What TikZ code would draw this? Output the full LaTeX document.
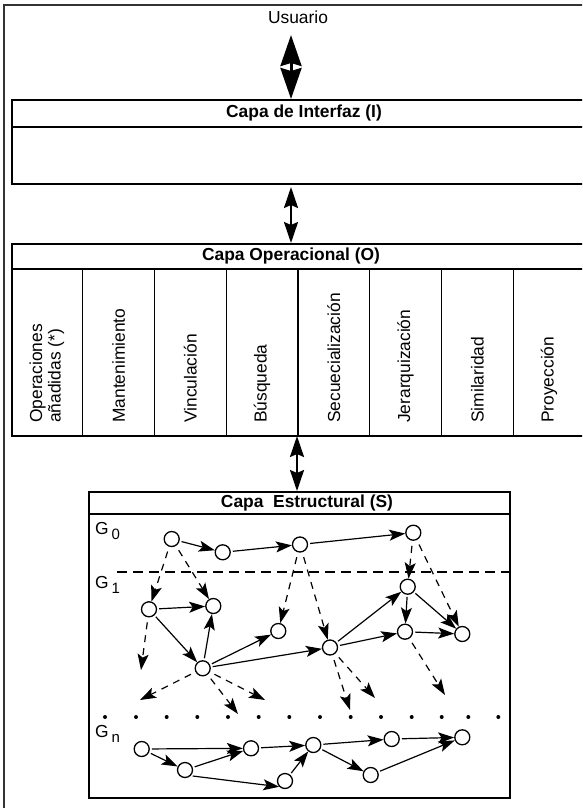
\documentclass[tikz,border=0pt]{standalone}
\usepackage{fontspec}
\setmainfont{Liberation Sans}
\usetikzlibrary{arrows.meta}
\begin{document}
\begin{tikzpicture}[x=1pt, y=-1pt,
    font=\fontsize{17.4}{20}\selectfont,
    frame/.style={draw=black!80, line width=1.5pt},
    layer/.style={draw, line width=1.6pt, rectangle, anchor=north west, inner sep=0pt},
    title/.style={font=\fontsize{17.4}{20}\selectfont\bfseries},
    oplabel/.style={rotate=90, anchor=west, align=left, inner sep=0pt,
      font=\fontsize{17.4}{18.5}\selectfont},
    gnode/.style={circle, draw, fill=white, line width=1.3pt, minimum size=15pt, inner sep=0pt},
    link/.style={-{Stealth[length=16pt,width=11pt,inset=3.5pt]}, line width=1.2pt, shorten <=2pt},
    dlink/.style={link, dash pattern=on 7pt off 6pt, shorten <=5pt},
    bigarrow/.style={{Stealth[length=31pt,width=21pt,inset=3pt]}-{Stealth[length=31pt,width=21pt,inset=3pt]},
      line width=3pt},
    midarrow/.style={{Stealth[length=21pt,width=14pt,inset=3pt]}-{Stealth[length=21pt,width=14pt,inset=3pt]},
      line width=2.2pt},
  ]
  \useasboundingbox (0,0) rectangle (582,808);
  \clip (0,0) rectangle (582,808);
  \draw[frame] (4,830) -- (4,5) -- (600,5);

  \node (usr) at (298,17) {Usuario};
  \node[layer, minimum width=590pt, minimum height=84pt] (iface) at (11,99) {};
  \draw[line width=1.6pt] (11,127) -- (600,127);
  \node[title] (ifacet) at (304,113) {Capa de Interfaz (I)};

  \node[layer, minimum width=590pt, minimum height=192pt] (oper) at (11,243) {};
  \draw[line width=1.6pt] (11,269) -- (600,269);
  \node[title] (opert) at (291,256) {Capa Operacional (O)};
  \foreach \k in {1,...,7}
    \draw[line width=1.2pt] ({11+71.75*\k},269) -- ({11+71.75*\k},435);
  \foreach \t [count=\i] in {{Operaciones\\añadidas (*)}, Mantenimiento, Vinculación, Búsqueda,
      Secuecialización, Jerarquización, Similaridad, Proyección}
    \node[oplabel] (op\i) at ({11+71.75*(\i-0.5)},423) {\t};

  \node[layer, minimum width=421pt, minimum height=306pt] (struct) at (88,491) {};
  \draw[line width=1.6pt] (88,514) -- (509,514);
  \node[title] (structt) at (307,503) {Capa\ \ Estructural (S)};

  \coordinate (a1) at (291,35);
  \coordinate (a2) at (291,187);
  \coordinate (a3) at (297,436);
  \draw[bigarrow] (a1) -- (a1 |- iface.north);
  \draw[midarrow] (a2) -- (a2 |- oper.north);
  \draw[midarrow] (a3) -- (a3 |- struct.north);

  \node[anchor=west, inner sep=0pt] (g0) at (95,531) {G\,\raisebox{-5pt}{\fontsize{15}{15}\selectfont 0}};
  \node[anchor=west, inner sep=0pt] (g1) at (95,585) {G\,\raisebox{-5pt}{\fontsize{15}{15}\selectfont 1}};
  \node[anchor=west, inner sep=0pt] (gn) at (95,734) {G\,\raisebox{-5pt}{\fontsize{15}{15}\selectfont n}};
  \draw[line width=1.3pt, dash pattern=on 10pt off 6pt] (117,572) -- (509,572);
  \foreach \x in {105,136,166.7,197.3,228,258.7,289.3,320,350.7,381,411.7,441.7,468.3,498.3}
    \fill (\x,717) circle (2pt);

  \node[gnode] (a0) at (171.7,539) {};
  \node[gnode] (b0) at (222.7,552.3) {};
  \node[gnode] (c0) at (300,544.5) {};
  \node[gnode] (d0) at (413.3,532.7) {};
  \node[gnode] (p) at (149,609.3) {};
  \node[gnode] (q) at (213.3,606) {};
  \node[gnode] (r) at (278.3,631) {};
  \node[gnode] (s) at (330,647.5) {};
  \node[gnode] (t) at (407.7,586.7) {};
  \node[gnode] (u) at (405,631.7) {};
  \node[gnode] (v) at (462.3,634) {};
  \node[gnode] (w) at (202.7,668.3) {};
  \node[gnode] (n1) at (141.7,749) {};
  \node[gnode] (n2) at (185,770) {};
  \node[gnode] (n3) at (251,748.3) {};
  \node[gnode] (n4) at (285,781) {};
  \node[gnode] (n5) at (313.3,745) {};
  \node[gnode] (n6) at (391.7,739) {};
  \node[gnode] (n7) at (462.3,737.3) {};
  \node[gnode] (n8) at (370.7,775) {};

  \coordinate (pe) at (141,670);
  \coordinate (we1) at (140,700);
  \coordinate (we2) at (238,714);
  \coordinate (we3) at (265,700);
  \coordinate (se1) at (350,710);
  \coordinate (se2) at (375,698);
  \coordinate (ue) at (445,695);

  \draw[link] (a0) -- (b0);
  \draw[link] (b0) -- (c0);
  \draw[link] (c0) -- (d0);
  \draw[dlink] (a0) -- (p);
  \draw[dlink] (a0) -- (q);
  \draw[dlink] (c0) -- (r);
  \draw[dlink] (c0) -- (s);
  \draw[dlink] (d0) -- (t);
  \draw[dlink] (d0) -- (v);
  \draw[link] (p) -- (q);
  \draw[link] (p) -- (w);
  \draw[dlink] (p) -- (pe);
  \draw[link] (w) -- (q);
  \draw[link] (w) -- (r);
  \draw[link] (w) -- (s);
  \draw[dlink] (w) -- (we1);
  \draw[dlink] (w) -- (we2);
  \draw[dlink] (w) -- (we3);
  \draw[link] (s) -- (t);
  \draw[link] (s) -- (u);
  \draw[dlink] (s) -- (se1);
  \draw[dlink] (s) -- (se2);
  \draw[link] (t) -- (u);
  \draw[link] (t) -- (v);
  \draw[link] (u) -- (v);
  \draw[dlink] (u) -- (ue);
  \draw[link] (n1) -- (n3);
  \draw[link] (n1) -- (n2);
  \draw[link] (n2) -- (n3);
  \draw[link] (n2.south east) -- (n4.south west);
  \draw[link] (n3) -- (n5);
  \draw[link] (n4) -- (n5);
  \draw[link] (n5) -- (n6);
  \draw[link] (n5) -- (n8);
  \draw[link] (n6) -- (n7);
  \draw[link] (n8) -- (n7);
\end{tikzpicture}
\end{document}
